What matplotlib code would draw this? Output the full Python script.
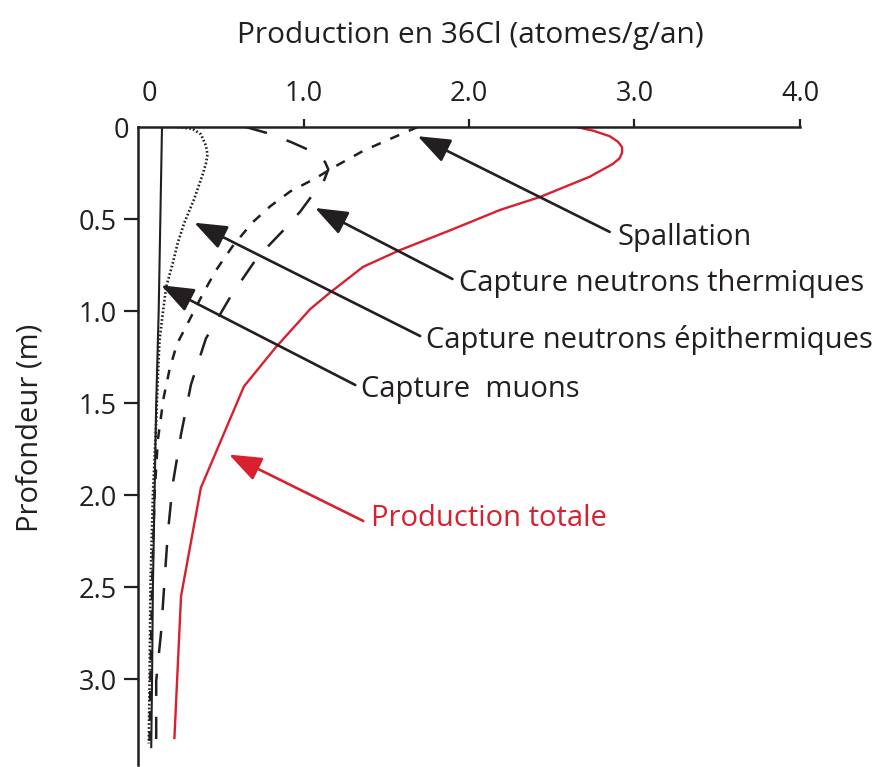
import matplotlib
matplotlib.use("Agg")
import matplotlib.pyplot as plt
import matplotlib.transforms as mtransforms

plt.rcParams['font.family'] = ['Open Sans', 'DejaVu Sans']
plt.rcParams['lines.scale_dashes'] = False

# ---------------- data ----------------
depth_spall = [0, 0.07, 0.13, 0.21, 0.28, 0.35, 0.43, 0.52, 0.65, 0.78, 0.91,
               1.05, 1.18, 1.32, 1.47, 1.7, 2.0, 2.5, 3.0, 3.35]
prod_spall = [1.69, 1.51, 1.36, 1.20, 1.07, 0.92, 0.80, 0.69, 0.57, 0.47, 0.39,
              0.31, 0.235, 0.19, 0.155, 0.12, 0.10, 0.085, 0.075, 0.07]

depth_therm = [0, 0.03, 0.08, 0.136, 0.19, 0.23, 0.3, 0.35, 0.46, 0.56, 0.71,
               0.92, 1.15, 1.40, 1.67, 1.94, 2.21, 2.47, 2.74, 3.01, 3.29, 3.38]
prod_therm = [0.65, 0.77, 0.92, 1.06, 1.13, 1.15, 1.12, 1.07, 0.98, 0.88, 0.72,
              0.56, 0.41, 0.32, 0.26, 0.21, 0.18, 0.16, 0.14, 0.11, 0.11, 0.11]

depth_epi = [0, 0.01, 0.04, 0.1, 0.15, 0.2, 0.26, 0.39, 0.52, 0.63, 0.74, 0.87,
             1.01, 1.16, 1.36, 1.6, 2.0, 2.5, 3.0, 3.35]
prod_epi = [0.24, 0.33, 0.38, 0.41, 0.42, 0.41, 0.39, 0.34, 0.28, 0.24, 0.21, 0.17,
            0.15, 0.13, 0.12, 0.11, 0.09, 0.075, 0.07, 0.065]

depth_muon = [0, 0.5, 1.0, 1.5, 2.0, 2.5, 3.0, 3.37]
prod_muon = [0.145, 0.135, 0.125, 0.11, 0.10, 0.09, 0.085, 0.08]

depth_total = [0, 0.02, 0.05, 0.08, 0.11, 0.14, 0.17, 0.2, 0.27, 0.38, 0.45,
               0.56, 0.67, 0.76, 0.9, 0.99, 1.2, 1.41, 1.96, 2.55, 3.32]
prod_total = [2.65, 2.75, 2.85, 2.90, 2.925, 2.925, 2.91, 2.87, 2.73, 2.43, 2.19,
              1.89, 1.58, 1.36, 1.16, 1.04, 0.83, 0.64, 0.38, 0.26, 0.22]

x_ticks = [0, 1, 2, 3, 4]
x_ticklabels = ['0', '1.0', '2.0', '3.0', '4.0']
y_ticks = [0, 0.5, 1.0, 1.5, 2.0, 2.5, 3.0]
y_ticklabels = ['0', '0.5', '1.0', '1.5', '2.0', '2.5', '3.0']

x_label = "Production en 36Cl (atomes/g/an)"
y_label = "Profondeur (m)"

# annotations: text, arrow tip (x, depth), arrow tail (x, depth), text anchor, colour
annotations = [
    ("Spallation", (1.69, 0.05), (2.85, 0.57), (2.90, 0.60), 'black'),
    ("Capture neutrons thermiques", (1.07, 0.44), (1.90, 0.826), (1.94, 0.85), 'black'),
    ("Capture neutrons épithermiques", (0.34, 0.52), (1.705, 1.136), (1.74, 1.155), 'black'),
    ("Capture  muons", (0.14, 0.86), (1.313, 1.402), (1.35, 1.425), 'black'),
    ("Production totale", (0.55, 1.78), (1.361, 2.141), (1.41, 2.13), 'red'),
]

RED = '#d8202f'
INK = '#231f20'

fig = plt.figure(figsize=(8.78, 7.67), dpi=100)
ax = fig.add_axes([138 / 878, 2 / 767, 662 / 878, 638 / 767])

ax.plot(prod_spall, depth_spall, color=INK, lw=1.8, dashes=(7, 7.5),
        dash_capstyle='butt')
ax.plot(prod_therm, depth_therm, color=INK, lw=1.8, dashes=(16, 15),
        dash_capstyle='butt')
ax.plot(prod_epi, depth_epi, color=INK, lw=1.9, dashes=(1.2, 1.6),
        dash_capstyle='butt')
ax.plot(prod_muon, depth_muon, color=INK, lw=1.5)
ax.plot(prod_total, depth_total, color=RED, lw=1.7)

ax.set_xlim(0, 4)
ax.set_ylim(3.467, 0)

ax.xaxis.tick_top()
ax.set_xticks(x_ticks)
ax.set_xticklabels(x_ticklabels)
ax.set_yticks(y_ticks)
ax.set_yticklabels(y_ticklabels)
ax.tick_params(axis='x', direction='out', length=6, width=1.6, pad=8,
               labelsize=19.5, colors=INK)
ax.tick_params(axis='y', direction='out', length=10, width=1.6, pad=5,
               labelsize=19.5, colors=INK)

for s in ['right', 'bottom']:
    ax.spines[s].set_visible(False)
for s in ['left', 'top']:
    ax.spines[s].set_linewidth(1.8)
    ax.spines[s].set_color(INK)

# hide the tick marks at 0 and nudge the "0" labels as in the original
ax.xaxis.get_major_ticks()[0].tick2line.set_visible(False)
ax.yaxis.get_major_ticks()[0].tick1line.set_visible(False)
xl0 = ax.get_xticklabels()[0]
xl0.set_transform(xl0.get_transform() + mtransforms.ScaledTranslation(11 / 100, 0, fig.dpi_scale_trans))
yl0 = ax.get_yticklabels()[0]
yl0.set_transform(yl0.get_transform() + mtransforms.ScaledTranslation(12 / 100, 0, fig.dpi_scale_trans))

fig.text(470 / 878, 1 - 35 / 767, x_label, ha='center', va='center',
         fontsize=21.5, color=INK)
fig.text(30 / 878, 1 - 428 / 767, y_label, ha='center', va='center',
         rotation=90, fontsize=21, color=INK)

for txt, tip, tail, anchor, col in annotations:
    c = RED if col == 'red' else INK
    ax.annotate('', xy=tip, xytext=tail,
                arrowprops=dict(arrowstyle='-|>,head_length=1.0,head_width=0.38',
                                color=c, lw=1.9, shrinkA=0, shrinkB=0,
                                mutation_scale=20))
    ax.text(anchor[0], anchor[1], txt, ha='left', va='center',
            fontsize=21, color=c)

fig.savefig('out.png', dpi=100)
